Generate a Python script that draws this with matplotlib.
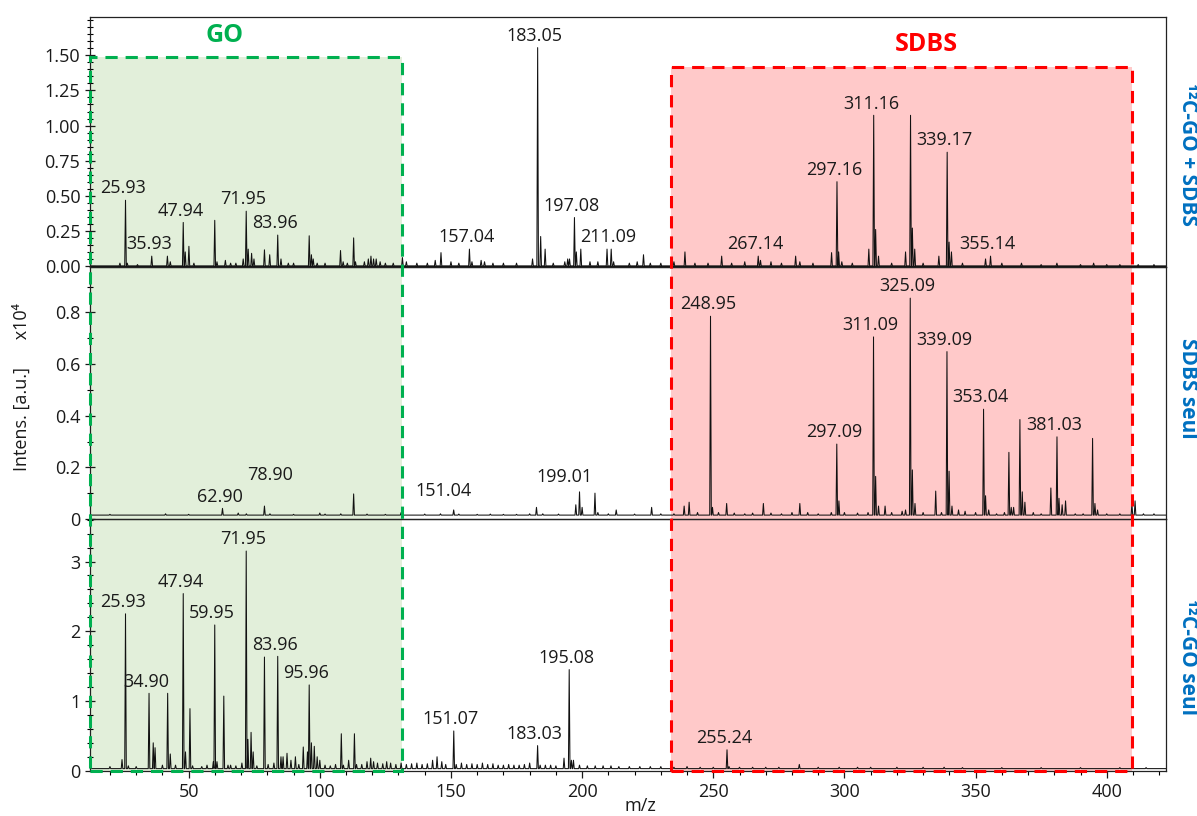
import matplotlib
matplotlib.use("Agg")
import matplotlib.pyplot as plt
import numpy as np
from matplotlib.patches import Rectangle
from matplotlib.ticker import MultipleLocator, FixedLocator

plt.rcParams['font.family'] = ['Open Sans', 'DejaVu Sans']

# ---- data: peak lists (m/z, intensity x10^4) ----
# 12C-GO + SDBS
mz_mix = [23.8, 25.93, 26.6, 30.5, 35.93, 41.9, 43.0, 47.94, 48.7, 50.1, 52.0, 59.95, 60.8, 64.0, 66.0,
          68.0, 70.8, 71.95, 72.7, 74.0, 74.9, 78.9, 80.9, 83.96, 85.2, 88.0, 90.0, 95.96, 96.8, 97.5,
          99.0, 102.0, 107.9, 108.9, 110.5, 112.9, 113.6, 117.0, 118.5, 119.5, 120.5, 121.5, 123.0,
          125.0, 128.0, 131.5, 133.0, 137.0, 141.0, 144.0, 146.2, 150.0, 153.0, 157.04, 158.0, 161.5,
          162.8, 166.0, 170.0, 175.0, 181.1, 183.05, 184.2, 185.9, 189.0, 193.4, 194.5, 195.2, 197.08,
          197.8, 199.5, 203.0, 206.0, 209.5, 211.09, 212.0, 218.0, 221.0, 223.4, 226.0, 230.0, 235.0,
          239.2, 243.0, 248.0, 253.2, 257.0, 262.0, 267.14, 268.0, 272.0, 276.0, 281.4, 283.0, 288.0,
          295.1, 297.16, 297.8, 299.0, 303.0, 309.3, 311.16, 311.9, 313.0, 318.0, 323.3, 325.2, 325.9,
          326.8, 330.0, 336.0, 339.17, 339.9, 340.8, 345.0, 353.8, 355.7, 360.0, 367.5, 375.0, 381.0,
          390.0, 395.0, 400.0, 405.0, 412.0, 418.0]
int_mix = [0.02, 0.468, 0.02, 0.01, 0.07, 0.07, 0.03, 0.31, 0.10, 0.14, 0.02, 0.325, 0.03, 0.04, 0.02,
           0.02, 0.05, 0.39, 0.12, 0.09, 0.05, 0.115, 0.08, 0.22, 0.05, 0.02, 0.02, 0.215, 0.08, 0.05,
           0.02, 0.02, 0.11, 0.03, 0.02, 0.20, 0.03, 0.03, 0.05, 0.07, 0.05, 0.05, 0.03,
           0.02, 0.02, 0.06, 0.03, 0.02, 0.02, 0.04, 0.095, 0.03, 0.02, 0.12, 0.03, 0.04,
           0.03, 0.02, 0.02, 0.02, 0.05, 1.555, 0.21, 0.12, 0.02, 0.03, 0.05, 0.05, 0.345,
           0.10, 0.12, 0.03, 0.03, 0.12, 0.12, 0.03, 0.02, 0.03, 0.08, 0.02, 0.02, 0.03,
           0.10, 0.02, 0.02, 0.07, 0.02, 0.03, 0.07, 0.04, 0.03, 0.02, 0.07, 0.03, 0.02,
           0.095, 0.60, 0.10, 0.03, 0.02, 0.12, 1.073, 0.26, 0.07, 0.02, 0.10, 1.073, 0.27,
           0.12, 0.02, 0.07, 0.81, 0.17, 0.10, 0.02, 0.05, 0.07, 0.02, 0.02, 0.01, 0.02,
           0.01, 0.02, 0.01, 0.01, 0.01, 0.01]
labels_mix = ["25.93", "35.93", "47.94", "71.95", "83.96", "157.04", "183.05", "197.08", "211.09",
              "267.14", "297.16", "311.16", "339.17", "355.14"]

# SDBS seul
mz_sdbs = [20.0, 41.2, 50.0, 62.9, 68.9, 72.0, 78.9, 81.0, 90.0, 100.0, 102.0, 108.0, 112.9, 118.0,
           125.0, 131.0, 140.0, 146.0, 151.04, 153.0, 160.0, 165.0, 170.0, 175.0, 180.0, 182.6, 185.0,
           191.0, 197.6, 199.01, 200.0, 204.9, 206.0, 210.0, 213.0, 220.0, 226.5, 230.0, 235.0, 238.9,
           240.8, 244.0, 248.95, 249.7, 252.0, 255.1, 258.0, 262.0, 265.0, 269.1, 272.0, 276.0, 280.0,
           283.0, 286.0, 290.0, 295.0, 297.09, 297.9, 300.0, 305.0, 309.0, 311.09, 311.9, 313.0, 315.5,
           318.0, 322.0, 323.3, 325.09, 325.9, 326.9, 330.0, 334.8, 337.0, 339.09, 339.9, 341.0, 343.5,
           346.0, 350.0, 353.04, 353.8, 355.0, 358.0, 361.0, 362.7, 363.6, 364.5, 366.9, 367.8, 368.8,
           372.0, 375.0, 378.7, 381.03, 381.8, 383.0, 384.3, 388.0, 391.0, 394.6, 395.5, 396.5, 400.0,
           405.0, 409.6, 410.8, 414.0, 418.0]
int_sdbs = [0.003, 0.005, 0.003, 0.026, 0.008, 0.005, 0.035, 0.005, 0.003, 0.008, 0.004, 0.005, 0.082,
            0.004, 0.003, 0.01, 0.004, 0.005, 0.02, 0.004, 0.003, 0.004, 0.003, 0.003, 0.005, 0.03, 0.005,
            0.004, 0.04, 0.09, 0.03, 0.085, 0.01, 0.005, 0.02, 0.004, 0.03, 0.005, 0.005, 0.035,
            0.05, 0.01, 0.77, 0.03, 0.01, 0.045, 0.008, 0.005, 0.008, 0.045, 0.008, 0.005, 0.01,
            0.045, 0.01, 0.005, 0.01, 0.275, 0.055, 0.01, 0.008, 0.01, 0.69, 0.15, 0.035, 0.035,
            0.01, 0.015, 0.02, 0.84, 0.175, 0.045, 0.01, 0.093, 0.01, 0.633, 0.17, 0.035, 0.02,
            0.015, 0.01, 0.41, 0.075, 0.02, 0.005, 0.01, 0.243, 0.03, 0.03, 0.37, 0.09, 0.05,
            0.01, 0.005, 0.105, 0.303, 0.065, 0.04, 0.055, 0.005, 0.005, 0.297, 0.045, 0.02, 0.005,
            0.005, 0.045, 0.055, 0.005, 0.005]
labels_sdbs = ["62.90", "78.90", "151.04", "199.01", "248.95", "297.09", "311.09", "325.09",
               "339.09", "353.04", "381.03"]

# 12C-GO seul
mz_go = [20.0, 24.6, 25.93, 27.0, 30.0, 34.9, 36.5, 37.2, 40.0, 42.0, 43.0, 45.0, 47.94, 48.8, 50.5,
         51.5, 55.0, 57.0, 59.4, 59.95, 60.8, 63.4, 65.0, 66.0, 68.0, 70.3, 71.95, 72.6, 73.8, 74.6,
         76.0, 78.9, 80.3, 82.5, 83.96, 85.2, 86.0, 87.5, 89.0, 90.7, 92.0, 93.7, 95.3, 95.96, 96.8,
         97.9, 99.0, 100.0, 102.0, 104.0, 106.0, 108.2, 109.0, 111.0, 113.2, 114.0, 116.0, 118.0,
         119.4, 120.5, 122.0, 124.0, 125.5, 127.0, 129.0, 131.0, 133.0, 135.0, 137.0, 139.0, 141.0,
         143.0, 144.7, 146.5, 148.0, 151.07, 152.0, 154.0, 156.0, 158.0, 160.0, 162.0, 164.0, 166.0,
         168.0, 170.0, 172.0, 174.0, 176.0, 178.0, 180.0, 183.03, 184.0, 186.0, 188.0, 190.0, 193.1,
         195.08, 195.9, 196.7, 199.0, 202.0, 205.0, 208.0, 211.0, 214.0, 218.0, 222.0, 226.0, 230.0,
         235.0, 240.0, 245.0, 250.0, 255.24, 256.0, 260.0, 265.0, 270.0, 275.0, 282.8, 290.0, 298.0,
         305.0, 310.0, 320.0, 330.0, 338.0, 345.0, 360.0, 375.0, 390.0, 405.0, 415.0]
int_go = [0.03, 0.13, 2.22, 0.04, 0.03, 1.08, 0.37, 0.30, 0.05, 1.08, 0.21, 0.05, 2.51, 0.24, 0.86,
          0.04, 0.03, 0.05, 0.10, 2.06, 0.10, 1.04, 0.05, 0.05, 0.04, 0.08, 3.12, 0.42, 0.52, 0.24,
          0.04, 1.60, 0.06, 0.08, 1.61, 0.17, 0.17, 0.22, 0.12, 0.17, 0.06, 0.31, 0.24, 1.20, 0.37,
          0.32, 0.17, 0.12, 0.05, 0.04, 0.06, 0.50, 0.05, 0.12, 0.50, 0.06, 0.06, 0.10,
          0.15, 0.10, 0.08, 0.07, 0.10, 0.08, 0.06, 0.08, 0.06, 0.07, 0.08, 0.06, 0.07,
          0.12, 0.17, 0.10, 0.06, 0.54, 0.06, 0.08, 0.06, 0.07, 0.06, 0.08, 0.06, 0.07,
          0.05, 0.05, 0.06, 0.05, 0.05, 0.06, 0.08, 0.33, 0.05, 0.05, 0.05, 0.04, 0.15,
          1.42, 0.12, 0.12, 0.05, 0.04, 0.04, 0.04, 0.04, 0.03, 0.03, 0.03, 0.03, 0.03,
          0.02, 0.03, 0.02, 0.02, 0.27, 0.03, 0.02, 0.02, 0.02, 0.02, 0.06, 0.02, 0.02,
          0.02, 0.02, 0.02, 0.02, 0.02, 0.015, 0.015, 0.015, 0.015, 0.015, 0.015]
labels_go = ["25.93", "34.90", "47.94", "59.95", "71.95", "83.96", "95.96", "151.07", "183.03",
             "195.08", "255.24"]

panel_names = ["\u00b9\u00b2C-GO + SDBS", "SDBS seul", "\u00b9\u00b2C-GO seul"]

# regions (m/z)
go_region = (12.4, 131.5)
sdbs_region = (234.0, 409.5)

# ---- layout ----
XMIN, XMAX = 12.4, 422.5
left, width = 0.0752, 0.8987
bottoms = [0.6732, 0.3640, 0.0555]
tops = [0.9795, 0.6732, 0.3640]
ylims = [(-0.005, 1.775), (0.0, 0.977), (0.0, 3.61)]
baselines = [0.0, 0.015, 0.03]
txt = '#1a1a1a'

fig = plt.figure(figsize=(11.97, 8.16), dpi=100)

# background overlay for coloured regions (same x scale, y in panel-1 units)
ov = fig.add_axes([left, bottoms[2], width, tops[0] - bottoms[2]], zorder=0)
ov.set_xlim(XMIN, XMAX)
h1 = tops[0] - bottoms[0]
u_per_fig = (ylims[0][1] - ylims[0][0]) / h1
ov_bottom = ylims[0][0] - (bottoms[0] - bottoms[2]) * u_per_fig
ov.set_ylim(ov_bottom, ylims[0][1])
ov.axis('off')

go_top, sdbs_top = 1.49, 1.417
ov.add_patch(Rectangle((go_region[0], ov_bottom), go_region[1] - go_region[0], go_top - ov_bottom,
                       facecolor='#E2EFDA', edgecolor='none'))
ov.add_patch(Rectangle((sdbs_region[0], ov_bottom), sdbs_region[1] - sdbs_region[0], sdbs_top - ov_bottom,
                       facecolor='#FFC9C9', edgecolor='none'))

# dashed outlines on top
ov2 = fig.add_axes([left, bottoms[2], width, tops[0] - bottoms[2]], zorder=5)
ov2.set_xlim(XMIN, XMAX)
ov2.set_ylim(ov_bottom, ylims[0][1])
ov2.axis('off')
ov2.patch.set_alpha(0)
ov2.add_patch(Rectangle((go_region[0], ov_bottom), go_region[1] - go_region[0], go_top - ov_bottom,
                        facecolor='none', edgecolor='#00B050', lw=2.2, ls=(0, (4, 2.6)), clip_on=False))
ov2.add_patch(Rectangle((sdbs_region[0], ov_bottom), sdbs_region[1] - sdbs_region[0], sdbs_top - ov_bottom,
                        facecolor='none', edgecolor='#FF0000', lw=2.2, ls=(0, (4, 2.6)), clip_on=False))


def stick_line(mz, inten, base):
    xs, ys = [XMIN], [base]
    for m, h in sorted(zip(mz, inten)):
        xs += [m - 0.3, m, m + 0.3]
        ys += [base, base + h, base]
    xs.append(XMAX)
    ys.append(base)
    return np.array(xs), np.array(ys)


series = [(mz_mix, int_mix, labels_mix), (mz_sdbs, int_sdbs, labels_sdbs), (mz_go, int_go, labels_go)]
special = {(1, "78.90"): (4, 16), (1, "151.04"): (-7, 7), (1, "199.01"): (-11, 4)}
right_y = [0.447, 0.516, 0.45]

axes = []
for i, (mz, inten, labs) in enumerate(series):
    ax = fig.add_axes([left, bottoms[i], width, tops[i] - bottoms[i]], zorder=2)
    ax.patch.set_alpha(0)
    ax.set_xlim(XMIN, XMAX)
    ax.set_ylim(*ylims[i])
    x, y = stick_line(mz, inten, baselines[i])
    ax.plot(x, y, color='#111111', lw=0.75)
    if i == 0:
        ax.axhline(0, color='#111111', lw=1.0)
    arr_mz = np.array(mz)
    for lab in labs:
        k = int(np.argmin(np.abs(arr_mz - float(lab))))
        dx, dy = special.get((i, lab), (-2, 2))
        ax.annotate(lab, (mz[k], baselines[i] + inten[k]), xytext=(dx, dy), textcoords='offset points',
                    ha='center', va='bottom', fontsize=13, color=txt)
    for s in ax.spines.values():
        s.set_linewidth(0.9)
        s.set_color('#222222')
    ax.tick_params(axis='y', direction='inout', length=7, width=0.9, labelsize=13, colors=txt)
    ax.tick_params(axis='y', which='minor', direction='inout', length=4, width=0.8)
    ax.text(1.02, right_y[i], panel_names[i], transform=ax.transAxes, rotation=-90, ha='center',
            va='center', fontsize=15, fontweight='bold', color='#0070C0')
    axes.append(ax)

ax1, ax2, ax3 = axes
ax1.yaxis.set_major_locator(FixedLocator([0, 0.25, 0.5, 0.75, 1.0, 1.25, 1.5]))
ax1.set_yticklabels(["0.00", "0.25", "0.50", "0.75", "1.00", "1.25", "1.50"])
ax1.yaxis.set_minor_locator(MultipleLocator(0.05))
ax2.yaxis.set_major_locator(FixedLocator([0, 0.2, 0.4, 0.6, 0.8]))
ax2.set_yticklabels(["0", "0.2", "0.4", "0.6", "0.8"])
ax2.yaxis.set_minor_locator(MultipleLocator(0.1))
ax3.yaxis.set_major_locator(FixedLocator([0, 1, 2, 3]))
ax3.yaxis.set_minor_locator(MultipleLocator(0.2))

for ax in (ax1, ax2):
    ax.tick_params(axis='x', which='both', bottom=False, labelbottom=False)
ax3.xaxis.set_major_locator(MultipleLocator(50))
ax3.xaxis.set_minor_locator(MultipleLocator(10))
ax3.tick_params(axis='x', direction='out', length=5, width=0.9, labelsize=13, colors=txt)
ax3.tick_params(axis='x', which='minor', direction='out', length=3, width=0.8)

fig.text(0.535, 0.012, "m/z", ha='center', va='center', fontsize=13, color=txt)
fig.text(0.018, 0.525, "Intens. [a.u.]      x10\u2074", rotation=90, ha='center', va='center',
         fontsize=13, color=txt)
fig.text(0.188, 0.957, "GO", ha='center', va='center', fontsize=18, fontweight='bold', color='#00B050')
fig.text(0.774, 0.946, "SDBS", ha='center', va='center', fontsize=18, fontweight='bold', color='#FF0000')

fig.savefig("out.png", dpi=100)
